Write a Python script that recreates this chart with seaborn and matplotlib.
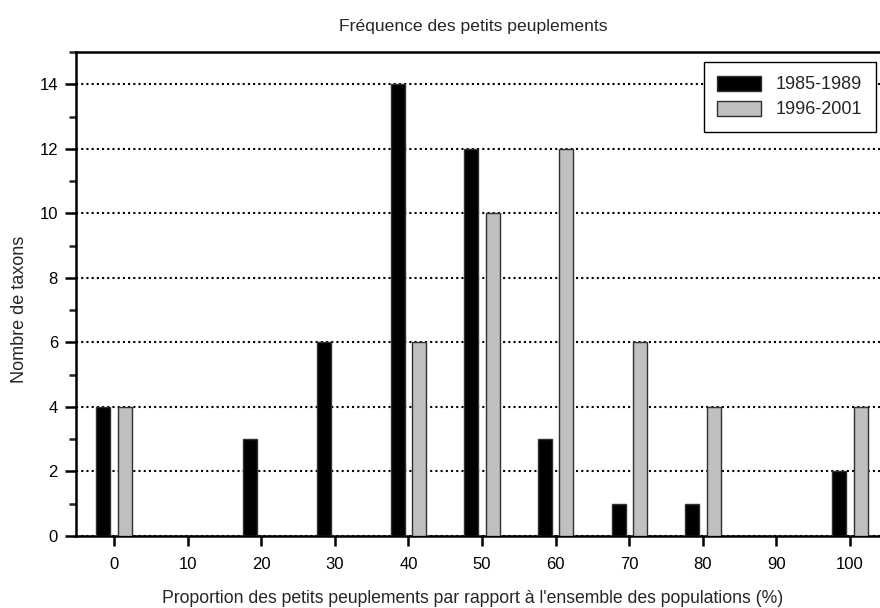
import matplotlib
matplotlib.use("Agg")
import matplotlib.pyplot as plt
import seaborn as sns
import pandas as pd
from matplotlib.patches import Patch
from matplotlib.ticker import MultipleLocator

categories = ["0", "10", "20", "30", "40", "50", "60", "70", "80", "90", "100"]
series_names = ["1985-1989", "1996-2001"]
values_1985_1989 = [4, 0, 3, 6, 14, 12, 3, 1, 1, 0, 2]
values_1996_2001 = [4, 0, 0, 0, 6, 10, 12, 6, 4, 0, 4]
y_ticks = [0, 2, 4, 6, 8, 10, 12, 14]

title = "Fréquence des petits peuplements"
xlabel = "Proportion des petits peuplements par rapport à l'ensemble des populations (%)"
ylabel = "Nombre de taxons"

df = pd.DataFrame({
    "cat": categories * 2,
    "serie": [series_names[0]] * len(categories) + [series_names[1]] * len(categories),
    "val": values_1985_1989 + values_1996_2001,
})

sns.set_style("ticks")
plt.rcParams["font.family"] = ["Liberation Sans", "DejaVu Sans"]

colors = {"1985-1989": "#000000", "1996-2001": "#c0c0c0"}

fig = plt.figure(figsize=(8.8, 6.08), dpi=100)
W, H = 880, 608
left, right, top, bottom = 76, 888, 52, 536
ax = fig.add_axes([left / W, 1 - bottom / H, (right - left) / W, (bottom - top) / H])

sns.barplot(data=df, x="cat", y="val", hue="serie", order=categories,
            hue_order=series_names, palette=colors, width=0.58, gap=0.345,
            edgecolor="#303030", linewidth=1.0, legend=False, ax=ax, zorder=3)

ax.set_xlim(-0.515, len(categories) - 1 + 0.515)
ax.set_ylim(0, 15)
ax.set_yticks(y_ticks)
ax.yaxis.set_minor_locator(MultipleLocator(1))
ax.set_xlabel("")
ax.set_ylabel("")

ax.set_axisbelow(True)
ax.yaxis.grid(True, which="major", color="black", linestyle=(0, (1, 1.5)), linewidth=1.5)
ax.xaxis.grid(False)

for s in ax.spines.values():
    s.set_linewidth(1.8)
    s.set_color("black")

ax.tick_params(axis="both", which="major", direction="out", labelsize=12, width=1.8,
               colors="black")
ax.tick_params(axis="y", which="major", length=8, pad=5)
ax.tick_params(axis="x", which="major", length=7, pad=8)
ax.tick_params(axis="y", which="minor", length=5, width=1.8)
ax.tick_params(axis="x", which="minor", length=0)

handles = [Patch(facecolor=colors[n], edgecolor="#303030", linewidth=1.0) for n in series_names]
leg = ax.legend(handles, series_names, loc="upper right", bbox_to_anchor=(0.985, 0.979),
                borderaxespad=0, fontsize=13, frameon=True, fancybox=False,
                edgecolor="black", framealpha=1, handlelength=2.45, handleheight=0.9,
                handletextpad=0.8, labelspacing=0.4, borderpad=0.75)
leg.get_frame().set_linewidth(1.0)
leg.set_zorder(5)

fig.text(473 / W, 1 - 27 / H, title, ha="center", va="center", fontsize=12.6)
fig.text(473 / W, 1 - 603 / H, xlabel, ha="center", va="baseline", fontsize=12.7)
fig.text(19 / W, 1 - 236 / H, ylabel, ha="center", va="top", rotation=90, fontsize=13)

fig.savefig("out.png", dpi=100)
